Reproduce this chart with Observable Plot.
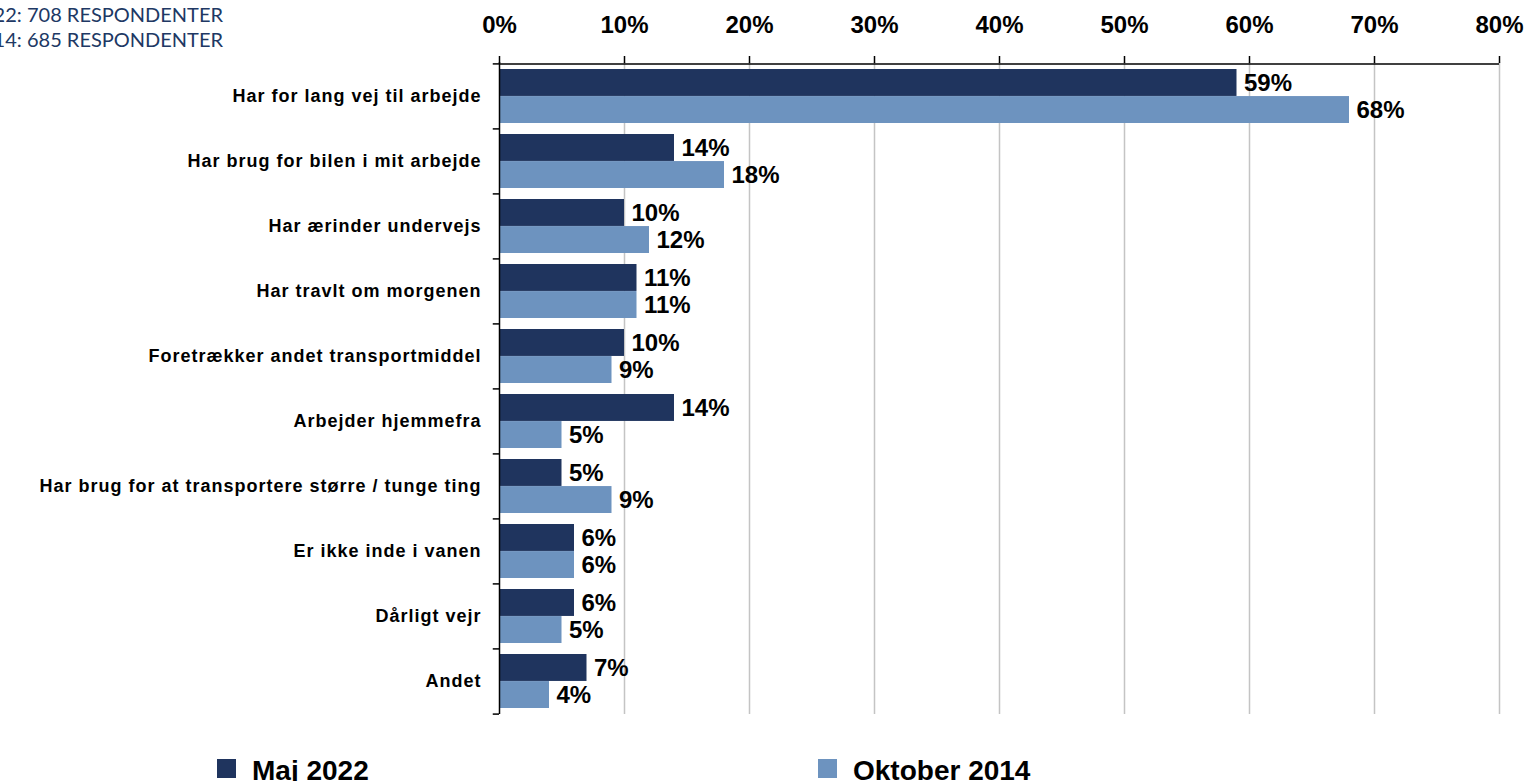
<!DOCTYPE html>
<html>
<head>
<meta charset="utf-8">
<script src="https://cdn.jsdelivr.net/npm/d3@7"></script>
<script src="https://cdn.jsdelivr.net/npm/@observablehq/plot@0.6"></script>
<style>
  html, body { margin: 0; padding: 0; background: #fff; overflow: hidden; }
  #wrap { position: relative; width: 1530px; height: 781px; }
  .note { position: absolute; right: calc(100% - 223px); white-space: nowrap; font-family: Lato, "Open Sans", sans-serif; font-size: 20px; color: #203864; line-height: 1; }
  .leg { position: absolute; top: 757px; font-family: "Liberation Sans", Arial, sans-serif; font-weight: bold; font-size: 28px; line-height: 1; color: #000; white-space: nowrap; }
  .sw { position: absolute; top: 759px; width: 19px; height: 19px; }
  g[aria-label="y-axis tick label"] text { letter-spacing: 1px; }
</style>
</head>
<body>
<div id="wrap">
  <div id="chart"></div>
  <div class="note" style="top:4px">MAJ 2022: 708 RESPONDENTER</div>
  <div class="note" style="top:29px">OKTOBER 2014: 685 RESPONDENTER</div>
  <div class="sw" id="sw1" style="left:217px"></div>
  <div class="leg" id="lg1" style="left:252px"></div>
  <div class="sw" id="sw2" style="left:818px"></div>
  <div class="leg" id="lg2" style="left:853px"></div>
</div>
<script>
const categories = [
  "Har for lang vej til arbejde",
  "Har brug for bilen i mit arbejde",
  "Har ærinder undervejs",
  "Har travlt om morgenen",
  "Foretrækker andet transportmiddel",
  "Arbejder hjemmefra",
  "Har brug for at transportere større / tunge ting",
  "Er ikke inde i vanen",
  "Dårligt vejr",
  "Andet"
];
const seriesNames = ["Maj 2022", "Oktober 2014"];
const maj2022 = [59, 14, 10, 11, 10, 14, 5, 6, 6, 7];
const okt2014 = [68, 18, 12, 11, 9, 5, 9, 6, 5, 4];
const xTicks = [0, 10, 20, 30, 40, 50, 60, 70, 80];
const colors = ["#1f345e", "#6d93bf"];

document.getElementById("sw1").style.background = colors[0];
document.getElementById("sw2").style.background = colors[1];
document.getElementById("lg1").textContent = seriesNames[0];
document.getElementById("lg2").textContent = seriesNames[1];

const rowsA = categories.map((c, i) => ({cat: c, v: maj2022[i]}));
const rowsB = categories.map((c, i) => ({cat: c, v: okt2014[i]}));

const W = 1530, H = 730, mt = 62, mb = 16, ml = 499, mr = 31;
const pi = 0.17, po = 0.085;
const step = (H - mt - mb) / (categories.length - pi + 2 * po);
const bw = step * (1 - pi);

const chart = Plot.plot({
  width: W,
  height: H,
  marginTop: mt,
  marginBottom: mb,
  marginLeft: ml,
  marginRight: mr,
  style: {fontFamily: "'Liberation Sans', Arial, sans-serif", color: "#000", background: "transparent"},
  x: {domain: [0, 80]},
  y: {domain: categories, paddingInner: pi, paddingOuter: po},
  marks: [
    Plot.ruleX(xTicks.filter(d => d > 0), {stroke: "#c4c4c4", strokeWidth: 1.5}),
    Plot.barX(rowsA, {x: "v", y: "cat", fill: colors[0], insetBottom: bw / 2}),
    Plot.barX(rowsB, {x: "v", y: "cat", fill: colors[1], insetTop: bw / 2}),
    Plot.ruleX([0], {stroke: "#000", strokeWidth: 1.5}),
    Plot.ruleY([categories[0]], {x1: 0, x2: 80, dy: -step / 2, stroke: "#000", strokeWidth: 1.5}),
    Plot.ruleY(categories, {x1: -0.5, x2: 0, dy: -step / 2, stroke: "#000", strokeWidth: 1.5}),
    Plot.ruleY([categories[categories.length - 1]], {x1: -0.5, x2: 0, dy: step / 2, stroke: "#000", strokeWidth: 1.5}),
    Plot.axisX({anchor: "top", ticks: xTicks, tickFormat: d => d + "%", tickSize: 7, tickPadding: 23, fontSize: 24, fontWeight: "bold", label: null, strokeWidth: 1.5}),
    Plot.axisY({anchor: "left", tickSize: 0, tickPadding: 18, fontSize: 18, fontWeight: "bold", label: null}),
    Plot.text(rowsA, {x: "v", y: "cat", text: d => d.v + "%", dx: 7, dy: -bw / 4, textAnchor: "start", fontSize: 24, fontWeight: "bold", fill: "#000"}),
    Plot.text(rowsB, {x: "v", y: "cat", text: d => d.v + "%", dx: 7, dy: bw / 4, textAnchor: "start", fontSize: 24, fontWeight: "bold", fill: "#000"})
  ]
});
document.getElementById("chart").appendChild(chart);
</script>
</body>
</html>
